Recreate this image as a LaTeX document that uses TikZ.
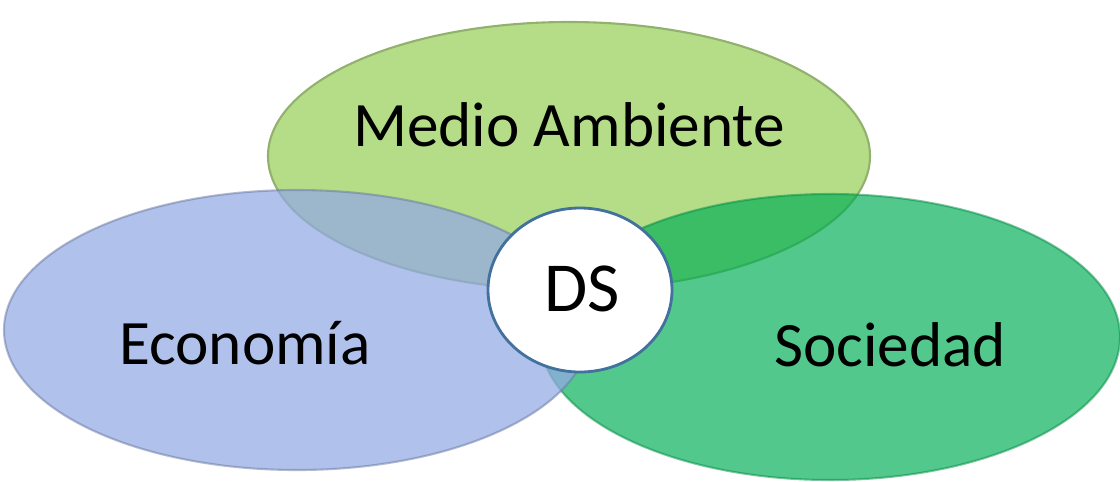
\documentclass[tikz,border=0pt]{standalone}
\usepackage{fontspec}
\setmainfont{Carlito}
\usetikzlibrary{shapes.geometric}
\definecolor{MedioGreen}{RGB}{181,221,136}
\definecolor{EconBlue}{RGB}{147,170,229}
\definecolor{SocGreen}{RGB}{0,174,85}
\definecolor{DSBorder}{RGB}{65,113,156}

\begin{document}
\begin{tikzpicture}[every node/.style={font=\fontsize{18}{20}\selectfont}]
		\useasboundingbox (0,0) rectangle (11.2,4.81);
		
		% Sets
		\node[draw=MedioGreen!80!black, line width=0.6pt, ellipse, fill=MedioGreen, minimum width=6.02cm, minimum height=2.68cm, inner sep=0pt] (medio) at (5.69,3.25) {};
		\node[draw=SocGreen!80!black, draw opacity=0.5, line width=0.6pt, ellipse, fill=SocGreen, fill opacity=0.68, minimum width=5.80cm, minimum height=2.86cm, inner sep=0pt] (soc) at (8.30,1.44) {};
		\node[draw=EconBlue!70!black, draw opacity=0.5, line width=0.6pt, ellipse, fill=EconBlue, fill opacity=0.73, minimum width=5.86cm, minimum height=2.80cm, inner sep=0pt] (econ) at (2.97,1.51) {};
		
		% Centre
		\node[draw=DSBorder, line width=0.8pt, ellipse, fill=white, minimum width=1.84cm, minimum height=1.64cm, inner sep=0pt] (ds) at (5.80,1.91) {};
		
		% Labels
		\node (medioLabel) at (5.69,3.56) {Medio Ambiente};
		\node (econLabel) at (2.45,1.38) {Economía};
		\node (socLabel) at (8.90,1.36) {Sociedad};
		\node[font=\fontsize{20}{22}\selectfont] (dsLabel) at (5.82,1.92) {DS};
	\end{tikzpicture}
\end{document}
